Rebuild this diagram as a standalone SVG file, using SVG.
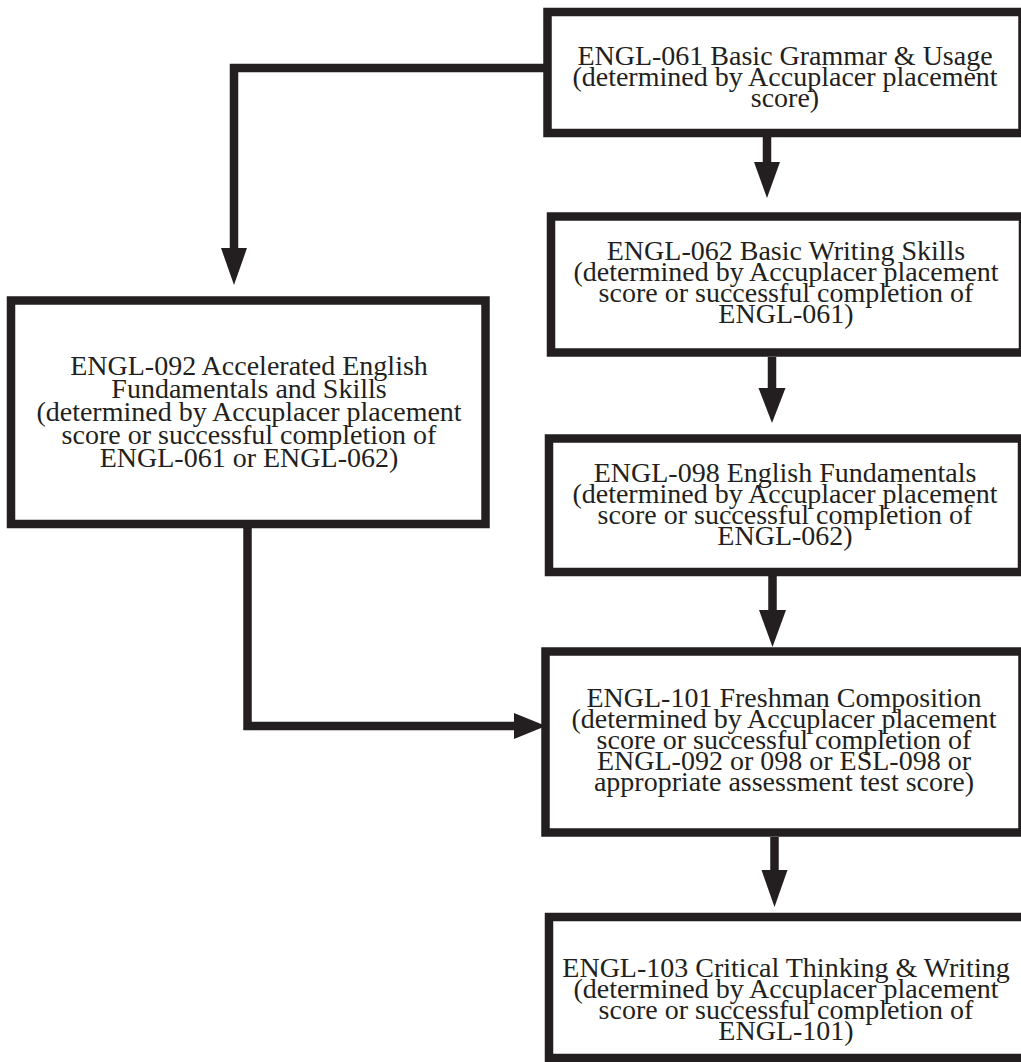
<svg xmlns="http://www.w3.org/2000/svg" width="1021" height="1062" viewBox="0 0 1021 1062">
<style>
.box{fill:#ffffff;stroke:#231f20;stroke-width:8.5}
.lbl{font-family:"Liberation Serif","Times New Roman",serif;font-size:28px;fill:#231f20;text-anchor:middle}
.ln{fill:none;stroke:#231f20;stroke-width:8.5;stroke-linejoin:miter;stroke-linecap:butt}
.ah{fill:#231f20}
</style>
<rect width="1021" height="1062" fill="#ffffff"/>
<g id="connectors">
<path class="ln" d="M547.5,68 H234 V250"/>
<polygon class="ah" points="221,248 247,248 234,285"/>
<path class="ln" d="M767,137 V164"/>
<polygon class="ah" points="754,162 780,162 767,198"/>
<path class="ln" d="M772,357 V390"/>
<polygon class="ah" points="758.5,388 785.5,388 772,423"/>
<path class="ln" d="M772.5,576 V612"/>
<polygon class="ah" points="759,610 786,610 772.5,647"/>
<path class="ln" d="M774.5,837 V872"/>
<polygon class="ah" points="761.5,870 787.5,870 774.5,907"/>
<path class="ln" d="M247.5,524 V726 H516"/>
<polygon class="ah" points="514,713 514,739 546,726"/>
</g>
<g id="node-engl061">
<rect class="box" x="547.5" y="12" width="475" height="121"/>
<text class="lbl" x="785" y="65">ENGL-061 Basic Grammar &amp; Usage</text>
<text class="lbl" x="785" y="86">(determined by Accuplacer placement</text>
<text class="lbl" x="785" y="107">score)</text>
</g>
<g id="node-engl062">
<rect class="box" x="551" y="216.5" width="472" height="136"/>
<text class="lbl" x="786" y="260">ENGL-062 Basic Writing Skills</text>
<text class="lbl" x="786" y="281">(determined by Accuplacer placement</text>
<text class="lbl" x="786" y="302">score or successful completion of</text>
<text class="lbl" x="786" y="323">ENGL-061)</text>
</g>
<g id="node-engl092">
<rect class="box" x="11" y="300.5" width="474.5" height="223.5"/>
<text class="lbl" x="249" y="375">ENGL-092 Accelerated English</text>
<text class="lbl" x="249" y="398">Fundamentals and Skills</text>
<text class="lbl" x="249" y="421">(determined by Accuplacer placement</text>
<text class="lbl" x="249" y="444">score or successful completion of</text>
<text class="lbl" x="249" y="467">ENGL-061 or ENGL-062)</text>
</g>
<g id="node-engl098">
<rect class="box" x="549" y="438.5" width="473" height="133.5"/>
<text class="lbl" x="785" y="482">ENGL-098 English Fundamentals</text>
<text class="lbl" x="785" y="503">(determined by Accuplacer placement</text>
<text class="lbl" x="785" y="524">score or successful completion of</text>
<text class="lbl" x="785" y="545">ENGL-062)</text>
</g>
<g id="node-engl101">
<rect class="box" x="545.5" y="651.5" width="477" height="181"/>
<text class="lbl" x="784" y="707">ENGL-101 Freshman Composition</text>
<text class="lbl" x="784" y="728">(determined by Accuplacer placement</text>
<text class="lbl" x="784" y="749">score or successful completion of</text>
<text class="lbl" x="784" y="770">ENGL-092 or 098 or ESL-098 or</text>
<text class="lbl" x="784" y="791">appropriate assessment test score)</text>
</g>
<g id="node-engl103">
<rect class="box" x="549" y="917" width="482" height="141"/>
<text class="lbl" x="786" y="977">ENGL-103 Critical Thinking &amp; Writing</text>
<text class="lbl" x="786" y="998">(determined by Accuplacer placement</text>
<text class="lbl" x="786" y="1019">score or successful completion of</text>
<text class="lbl" x="786" y="1040">ENGL-101)</text>
</g>
</svg>
